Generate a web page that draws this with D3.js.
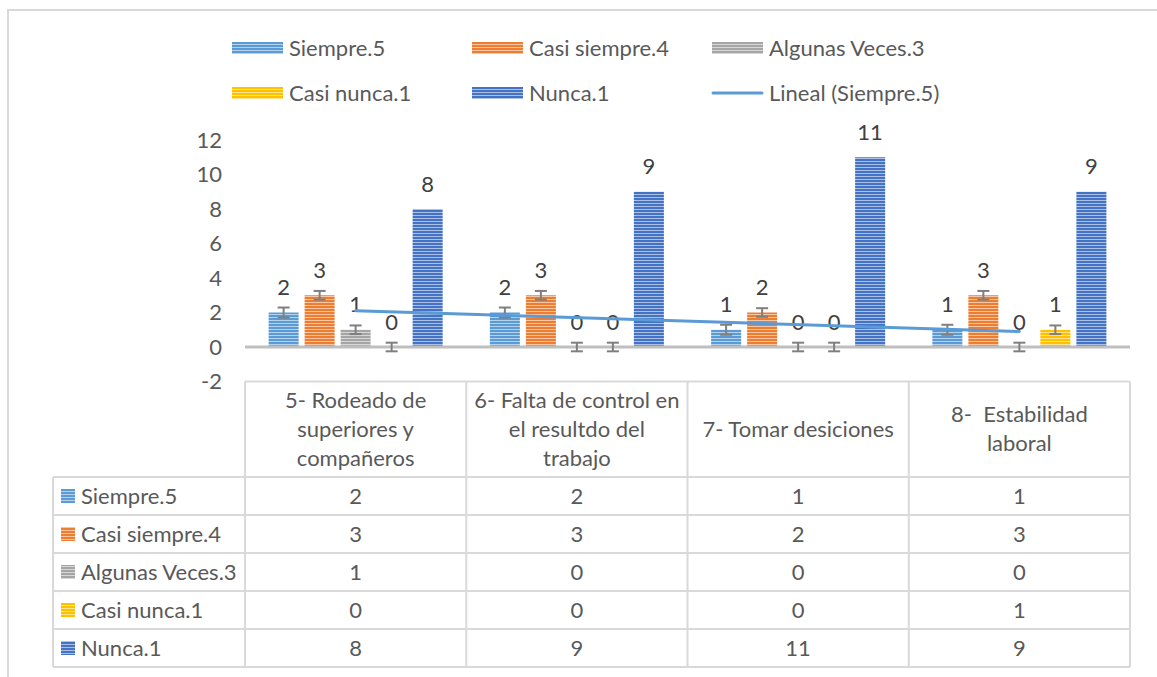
<!DOCTYPE html>
<html><head><meta charset="utf-8">
<script src="https://cdn.jsdelivr.net/npm/d3@7"></script>
<style>
html,body{margin:0;padding:0;background:#fff;}
svg{display:block;font-family:Lato,"Noto Sans",sans-serif;}
</style></head><body>
<svg id="chart" width="1157" height="677"></svg>
<script>
// ---- data ----
const categories = [
  ["5- Rodeado de","superiores y","compañeros"],
  ["6- Falta de control en","el resultdo del","trabajo"],
  ["7- Tomar desiciones"],
  ["8-  Estabilidad","laboral"]
];
const seriesNames = ["Siempre.5","Casi siempre.4","Algunas Veces.3","Casi nunca.1","Nunca.1"];
const siempre      = [2,2,1,1];
const casiSiempre  = [3,3,2,3];
const algunasVeces = [1,0,0,0];
const casiNunca    = [0,0,0,1];
const nunca        = [8,9,11,9];
const yTicks = [-2,0,2,4,6,8,10,12];
const trendName = "Lineal (Siempre.5)";
const hasErrorBars = [true,true,true,true,false];
const colors = ["#5b9bd5","#ed7d31","#a5a5a5","#ffc000","#4472c4"];

const seriesValues = [siempre,casiSiempre,algunasVeces,casiNunca,nunca];
const catIdx = categories.map((c,i)=>i);

// ---- setup ----
const svg = d3.select("#chart");
const FONT = 22;
const TEXT = "#595959", LABEL = "#404040", GRID = "#d9d9d9";

// patterns
const defs = svg.append("defs");
colors.forEach((c,i)=>{
  const p = defs.append("pattern").attr("id","pat"+i).attr("patternUnits","userSpaceOnUse")
    .attr("width",6).attr("height",3);
  p.append("rect").attr("width",6).attr("height",3).attr("fill",d3.interpolateRgb(c,"#fff")(0.55));
  p.append("rect").attr("width",6).attr("height",2).attr("fill",c);
});

// outer frame
svg.append("path").attr("d","M8,677 V10 H1157").attr("fill","none").attr("stroke",GRID).attr("stroke-width",2);

// scales
const x0 = d3.scaleBand().domain(catIdx).range([245,1130]).padding(0);
const x1 = d3.scaleBand().domain(d3.range(seriesNames.length)).range([0,x0.bandwidth()])
  .paddingInner(1/6).paddingOuter(0.656);
const y = d3.scaleLinear().domain([-2,12]).range([381.5,140]);

// y axis
const yAxis = svg.append("g").attr("transform","translate(245,0)")
  .call(d3.axisLeft(y).tickValues(yTicks).tickSize(0).tickPadding(23).tickFormat(d=>String(d)));
yAxis.select(".domain").remove();
yAxis.selectAll("text").attr("font-size",FONT).attr("fill",TEXT).attr("font-family","Lato").attr("dy","0.33em");

// bars
const gBars = svg.append("g");
seriesValues.forEach((vals,s)=>{
  gBars.selectAll(null).data(vals).join("rect")
    .attr("x",(d,i)=>x0(i)+x1(s))
    .attr("width",x1.bandwidth())
    .attr("y",d=>y(Math.max(d,0)))
    .attr("height",d=>Math.abs(y(d)-y(0)))
    .attr("fill","url(#pat"+s+")");
});

// zero line
svg.append("line").attr("x1",245).attr("x2",1130).attr("y1",y(0)).attr("y2",y(0))
  .attr("stroke","#bfbfbf").attr("stroke-width",3);

// error bars (standard error of each series)
const gErr = svg.append("g").attr("stroke","#7f7f7f").attr("stroke-width",2).attr("fill","none");
seriesValues.forEach((vals,s)=>{
  if(!hasErrorBars[s]) return;
  const se = d3.deviation(vals)/Math.sqrt(vals.length);
  vals.forEach((v,i)=>{
    const cx = x0(i)+x1(s)+x1.bandwidth()/2;
    const yt = y(v+se), yb = y(v-se);
    gErr.append("line").attr("x1",cx).attr("x2",cx).attr("y1",yt).attr("y2",yb);
    gErr.append("line").attr("x1",cx-6).attr("x2",cx+6).attr("y1",yt).attr("y2",yt);
    gErr.append("line").attr("x1",cx-6).attr("x2",cx+6).attr("y1",yb).attr("y2",yb);
  });
});

// trend line for Siempre.5 (linear regression)
const xs = siempre.map((d,i)=>i+1);
const mx = d3.mean(xs), my = d3.mean(siempre);
const slope = d3.sum(xs.map((xv,i)=>(xv-mx)*(siempre[i]-my)))/d3.sum(xs.map(xv=>(xv-mx)**2));
const icpt = my - slope*mx;
const trendPts = [xs[0], xs[xs.length-1]].map(xv=>[x0(xv-1)+x0.bandwidth()/2, y(icpt+slope*xv)]);

// data labels
const gLab = svg.append("g").attr("font-size",FONT).attr("fill",LABEL).attr("text-anchor","middle");
seriesValues.forEach((vals,s)=>{
  gLab.selectAll(null).data(vals).join("text")
    .attr("x",(d,i)=>x0(i)+x1(s)+x1.bandwidth()/2)
    .attr("y",d=>y(Math.max(d,0))-25)
    .attr("dy","0.35em")
    .text(d=>d);
});

svg.append("path").attr("d",d3.line()(trendPts)).attr("stroke","#5b9bd5").attr("stroke-width",3)
  .attr("fill","none").attr("stroke-linecap","round");

// legend
const legendItems = seriesNames.map((n,i)=>({name:n,type:"bar",i})).concat([{name:trendName,type:"line",i:0}]);
const lg = svg.append("g");
legendItems.forEach((it,k)=>{
  const col = k%3, row = Math.floor(k/3);
  const lx = 232 + col*240, ly = 48 + row*45;
  if(it.type==="bar"){
    lg.append("rect").attr("x",lx).attr("y",ly-6).attr("width",51).attr("height",12).attr("fill","url(#pat"+it.i+")");
  } else {
    lg.append("line").attr("x1",lx+1).attr("x2",lx+50).attr("y1",ly).attr("y2",ly)
      .attr("stroke",colors[0]).attr("stroke-width",3).attr("stroke-linecap","round");
  }
  lg.append("text").attr("x",lx+57).attr("y",ly).attr("dy","0.35em").attr("font-size",FONT).attr("fill",TEXT).text(it.name);
});

// data table
const tableLeft = 53, headerTop = 381.5, rowsTop = 477, rowsBottom = 667;
const rowScale = d3.scaleBand().domain(d3.range(seriesNames.length)).range([rowsTop,rowsBottom]);
const tg = svg.append("g").attr("stroke",GRID).attr("stroke-width",2).attr("fill","none");
tg.append("line").attr("x1",245).attr("x2",1130).attr("y1",headerTop).attr("y2",headerTop);
d3.range(seriesNames.length+1).forEach(r=>{
  const yy = r<seriesNames.length ? rowScale(r) : rowsBottom;
  tg.append("line").attr("x1",tableLeft).attr("x2",1130).attr("y1",yy).attr("y2",yy);
});
tg.append("line").attr("x1",tableLeft).attr("x2",tableLeft).attr("y1",rowsTop).attr("y2",rowsBottom);
catIdx.concat([categories.length]).forEach(i=>{
  const xx = i<categories.length ? x0(i) : 1130;
  tg.append("line").attr("x1",xx).attr("x2",xx).attr("y1",headerTop).attr("y2",rowsBottom);
});

// header text
const headerMid = (headerTop+rowsTop)/2;
categories.forEach((lines,i)=>{
  const t = svg.append("text").attr("text-anchor","middle").attr("font-size",FONT).attr("fill",TEXT)
    .attr("x",x0(i)+x0.bandwidth()/2).style("white-space","pre");
  lines.forEach((ln,j)=>{
    t.append("tspan").attr("x",x0(i)+x0.bandwidth()/2)
      .attr("y",headerMid + (j-(lines.length-1)/2)*29).attr("dy","0.35em").text(ln);
  });
});

// rows
seriesNames.forEach((n,s)=>{
  const cy = rowScale(s)+rowScale.bandwidth()/2;
  svg.append("rect").attr("x",61).attr("y",cy-7).attr("width",14).attr("height",14).attr("fill","url(#pat"+s+")");
  svg.append("text").attr("x",81).attr("y",cy).attr("dy","0.35em").attr("font-size",FONT).attr("fill",TEXT).text(n);
  seriesValues[s].forEach((v,i)=>{
    svg.append("text").attr("x",x0(i)+x0.bandwidth()/2).attr("y",cy).attr("dy","0.35em")
      .attr("text-anchor","middle").attr("font-size",FONT).attr("fill",TEXT).text(v);
  });
});
</script>
</body></html>
